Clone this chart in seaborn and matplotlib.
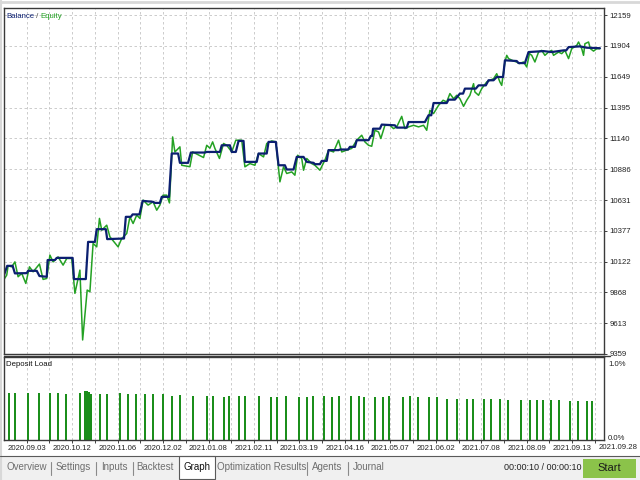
import matplotlib
matplotlib.use("Agg")
import matplotlib.pyplot as plt
import seaborn as sns
import pandas as pd
from matplotlib.patches import Rectangle
from matplotlib.lines import Line2D

# balance curve (deal index, balance) - step vertices
bal_x = [0, 0.7, 1.9, 2.4, 5.0, 5.3, 7.2, 7.8, 9.4, 9.6, 11.2, 11.6, 15.1, 15.4, 18.0,
         18.5, 20.0, 20.4, 22.4, 22.7, 26.4, 26.8, 27.9, 28.3, 29.8, 30.5, 32.8, 33.2,
         34.3, 34.7, 36.3, 36.9, 38.3, 38.7, 40.5, 41.1, 44.2, 44.6, 47.5, 47.9, 49.7,
         50.1, 51.0, 51.6, 52.7, 53.0, 55.6, 56.0, 57.8, 58.2, 59.8, 60.4, 61.8, 62.2,
         63.7, 64.4, 65.9, 66.6, 68.1, 68.4, 69.5, 69.9, 71.0, 71.4, 73.6, 73.9, 75.7,
         76.1, 77.2, 77.6, 80.2, 80.7, 81.0, 81.2, 82.7, 83.1, 86.0, 86.4, 88.6, 89.0,
         92.6, 93.4, 94.0, 94.5, 97.4, 97.8, 99.2, 100.3, 101.0, 101.4, 103.8, 104.4,
         106.0, 106.6, 107.7, 108.4, 109.8, 110.2, 112.8, 113.2, 114.6, 115.4, 118.7,
         120.5, 123.1, 123.7, 124.2, 126.7, 128.2, 131.1]
bal_y = [10011, 10087, 10087, 10025, 10027, 10046, 10046, 10003, 9997, 10135, 10135,
         10153, 10153, 9978, 9978, 10285, 10285, 10390, 10390, 10308, 10313, 10492,
         10492, 10512, 10512, 10624, 10616, 10607, 10607, 10657, 10657, 11015, 11015,
         10938, 10938, 11023, 11023, 11028, 11028, 11083, 11083, 11028, 11028, 11119,
         11119, 10946, 10946, 11015, 11015, 11111, 11111, 10918, 10918, 10883, 10883,
         10987, 10987, 10946, 10938, 10927, 10927, 10954, 10954, 11043, 11043, 11048,
         11048, 11070, 11070, 11125, 11125, 11160, 11160, 11220, 11220, 11254, 11248,
         11229, 11229, 11275, 11275, 11331, 11331, 11432, 11432, 11460, 11460, 11510,
         11510, 11551, 11551, 11578, 11578, 11620, 11620, 11647, 11647, 11785, 11779,
         11762, 11762, 11853, 11861, 11853, 11867, 11867, 11894, 11900, 11889, 11885]

# equity curve
eq_x = [0, 0.6, 0.9, 1.7, 2.4, 3.1, 3.9, 4.8, 5.6, 6.4, 7.8, 8.6, 9.4, 10.1, 10.8, 11.9,
        13.0, 13.8, 14.9, 15.6, 16.7, 17.3, 18.3, 18.9, 19.6, 20.4, 21.0, 21.5, 22.6,
        23.3, 25.1, 25.9, 27.0, 27.7, 28.4, 29.2, 29.9, 30.6, 31.7, 32.8, 33.6, 34.3,
        35.0, 35.8, 36.4, 37.1, 37.6, 38.7, 39.1, 40.9, 41.5, 43.9, 44.6, 45.3, 45.9,
        46.4, 47.4, 48.3, 49.0, 50.1, 51.0, 52.3, 53.0, 54.1, 55.2, 56.0, 57.1, 57.8,
        58.9, 59.8, 60.7, 61.5, 62.2, 63.3, 64.0, 64.6, 65.5, 65.9, 66.6, 67.7, 68.4,
        69.5, 70.6, 71.4, 72.5, 73.6, 74.3, 75.4, 76.5, 77.6, 78.7, 79.4, 80.2, 80.9,
        81.6, 82.4, 82.9, 83.8, 84.9, 85.7, 86.4, 87.5, 88.2, 89.0, 90.1, 91.2, 92.3,
        93.0, 93.7, 94.5, 95.6, 96.6, 97.4, 98.1, 98.9, 99.6, 100.3, 101.1, 101.8,
        102.5, 103.3, 103.6, 104.4, 105.1, 106.2, 106.9, 107.7, 108.4, 109.1, 109.5,
        110.2, 110.6, 111.0, 112.1, 112.8, 113.4, 114.3, 115.0, 115.6, 116.1, 116.8,
        117.6, 118.3, 119.0, 119.8, 120.5, 120.9, 122.0, 122.7, 123.4, 124.2, 124.9,
        126.0, 126.4, 127.1, 127.5, 127.8, 128.6, 129.0, 129.7, 130.4, 131.1]
eq_y = [9975, 10011, 10087, 10079, 10120, 9997, 10025, 9942, 10079, 10038, 10102, 9975,
        9983, 10176, 10120, 10161, 10093, 10148, 10148, 9860, 10052, 9475, 9887, 9873,
        10272, 10244, 10479, 10382, 10423, 10327, 10244, 10313, 10354, 10492, 10437,
        10506, 10479, 10630, 10589, 10616, 10547, 10589, 10671, 10671, 10607, 11152,
        11028, 11070, 10918, 10906, 11028, 10982, 11083, 11059, 11111, 11057, 10974,
        11098, 11083, 11028, 11125, 11125, 10905, 10932, 10918, 11015, 10987, 11098,
        11119, 11111, 10781, 10905, 10850, 10863, 10836, 11001, 10974, 10877, 10974,
        10932, 10918, 10877, 10960, 11043, 11028, 11125, 11028, 11043, 11057, 11125,
        11166, 11111, 11083, 11075, 11207, 11193, 11139, 11248, 11248, 11221, 11235,
        11322, 11221, 11235, 11248, 11235, 11248, 11207, 11372, 11345, 11413, 11455,
        11441, 11510, 11468, 11496, 11468, 11405, 11455, 11496, 11592, 11523, 11496,
        11551, 11606, 11620, 11633, 11674, 11606, 11578, 11771, 11826, 11799, 11779,
        11771, 11758, 11771, 11730, 11840, 11826, 11771, 11853, 11867, 11826, 11853,
        11867, 11826, 11853, 11840, 11867, 11799, 11881, 11908, 11936, 11881, 11826,
        11922, 11936, 11881, 11861, 11881, 11881]

# deposit load per deal, percent
load_x = [1.1, 2.4, 5.3, 7.8, 10.1, 11.9, 13.6, 16.7, 17.8, 18.3, 18.6, 19.1, 21.1, 22.6,
          25.5, 27.3, 29.0, 31.0, 32.7, 35.0, 36.9, 38.7, 41.6, 44.7, 45.9, 48.3, 49.4,
          51.8, 53.1, 56.0, 58.7, 60.1, 62.0, 65.0, 66.7, 67.9, 70.3, 72.2, 73.8, 76.3,
          78.0, 79.2, 81.6, 83.3, 84.6, 87.7, 89.3, 91.1, 93.6, 95.2, 97.5, 99.6, 101.9,
          103.1, 105.5, 107.2, 109.1, 110.9, 113.7, 115.7, 117.3, 118.5, 120.3, 122.2,
          124.5, 126.3, 128.2, 129.4]
load_pct = [0.62, 0.62, 0.62, 0.62, 0.62, 0.62, 0.61, 0.62, 0.64, 0.64, 0.63, 0.61, 0.61,
            0.61, 0.62, 0.61, 0.61, 0.61, 0.61, 0.61, 0.58, 0.59, 0.58, 0.58, 0.58, 0.57,
            0.58, 0.58, 0.58, 0.58, 0.57, 0.57, 0.58, 0.57, 0.57, 0.58, 0.58, 0.57, 0.58,
            0.58, 0.58, 0.57, 0.57, 0.57, 0.58, 0.57, 0.58, 0.57, 0.56, 0.56, 0.54, 0.54,
            0.54, 0.54, 0.54, 0.54, 0.54, 0.53, 0.53, 0.53, 0.53, 0.53, 0.53, 0.52, 0.51,
            0.51, 0.51, 0.51]

y_ticks = [9359, 9613, 9868, 10122, 10377, 10631, 10886, 11140, 11395, 11649, 11904, 12159]
date_labels = ["2020.09.03", "2020.10.12", "2020.11.06", "2020.12.02", "2021.01.08",
               "2021.02.11", "2021.03.19", "2021.04.16", "2021.05.07", "2021.06.02",
               "2021.07.08", "2021.08.09", "2021.09.13", "2021.09.28"]
date_pos = [5, 15, 25, 35, 45, 55, 65, 75, 85, 95, 105, 115, 125, 135]
tabs = ["Overview", "Settings", "Inputs", "Backtest", "Graph",
        "Optimization Results", "Agents", "Journal"]
timer_text = "00:00:10 / 00:00:10"

sns.set_style("white")
plt.rcParams['font.family'] = ['Liberation Sans Narrow', 'Liberation Sans', 'DejaVu Sans']

NAVY = '#0b1f70'
GREEN = '#23a123'
BARGREEN = '#1b8e1b'
FRAME = '#3a3a3a'
GRID = '#c4c4c4'
LBL = 5.6
W, H = 640, 480

fig = plt.figure(figsize=(6.4, 4.8), dpi=100, facecolor='white')
ax = fig.add_axes([4 / W, 1 - 354 / H, 600 / W, 346 / H])
ax2 = fig.add_axes([4 / W, 1 - 440 / H, 600 / W, 83 / H])

bal = pd.DataFrame({'deal': bal_x, 'value': bal_y})
eq = pd.DataFrame({'deal': eq_x, 'value': eq_y})
sns.lineplot(data=eq, x='deal', y='value', sort=False, estimator=None,
             color=GREEN, lw=1.1, ax=ax)
sns.lineplot(data=bal, x='deal', y='value', sort=False, estimator=None,
             color=NAVY, lw=1.6, ax=ax)

xmax = 132
ax.set_xlim(0, xmax)
ax.set_ylim(9359, 12217)
ax.set_xticks(range(5, 131, 5))
ax.set_yticks(y_ticks)
ax.set_yticklabels([str(v) for v in y_ticks])
ax.yaxis.tick_right()
ax.tick_params(axis='y', right=True, length=2.5, width=0.6, pad=1.5,
               labelsize=LBL, colors='#222222')
ax.tick_params(axis='x', bottom=False, labelbottom=False)
ax.set_xlabel('')
ax.set_ylabel('')
ax.grid(True, color=GRID, linestyle=(0, (3, 3)), lw=0.6)
ax.set_axisbelow(True)
for s in ax.spines.values():
    s.set_color(FRAME)
    s.set_linewidth(1.0)

t1 = ax.text(2 / 600, 1 - 8 / 346, "Balance", transform=ax.transAxes, color=NAVY,
             fontsize=LBL, va='center', ha='left')
t2 = ax.annotate(" / ", xy=(1, 0), xycoords=t1, va='bottom', ha='left',
                 color='#444444', fontsize=LBL)
ax.annotate("Equity", xy=(1, 0), xycoords=t2, va='bottom', ha='left',
            color=GREEN, fontsize=LBL)

# deposit load panel
ax2.bar(load_x, load_pct, width=0.45, color=BARGREEN, linewidth=0)
ax2.set_xlim(0, xmax)
ax2.set_ylim(0, 83 / 76)
ax2.set_yticks([])
ax2.set_xticks(range(5, 131, 10))
ax2.set_xticks(range(10, 131, 10), minor=True)
ax2.set_xticklabels(date_labels[:-1])
ax2.tick_params(axis='x', which='both', bottom=True, length=2, width=0.6, pad=1.5,
                labelsize=LBL, colors='#222222')
ax2.grid(True, axis='x', which='both', color=GRID, linestyle=(0, (3, 3)), lw=0.6)
ax2.set_axisbelow(True)
for s in ax2.spines.values():
    s.set_color(FRAME)
    s.set_linewidth(1.0)
ax2.text(2 / 600, 1 - 8 / 83, "Deposit Load", transform=ax2.transAxes, fontsize=LBL,
         va='center', ha='left', color='#111111')
ax2.text(1.0 + 4 / 600, 1.0, "1.0%", transform=ax2.get_yaxis_transform(),
         fontsize=LBL, va='center', ha='left', color='#222222')
ax2.text(date_pos[-1], -0.10, date_labels[-1], fontsize=LBL, ha='center', va='center',
         color='#222222', clip_on=False)
ax2.text(1.0 + 4 / 600, 0.02, "0.0%", transform=ax2.get_yaxis_transform(),
         fontsize=LBL, va='center', ha='left', color='#222222')

# window frame
fig.add_artist(Line2D([0, 1], [1 - 1.5 / H, 1 - 1.5 / H], color='#d8d8d8', lw=2))
fig.add_artist(Line2D([0.7 / W, 0.7 / W], [0, 1], color='#d8d8d8', lw=1.5))
fig.add_artist(Line2D([4 / W, 610 / W], [1 - 355.5 / H, 1 - 355.5 / H], color=FRAME, lw=1.0))

# tab bar
fig.add_artist(Rectangle((0, 0), 1, 24 / H, transform=fig.transFigure,
                         facecolor='#f0f0f0', edgecolor='none'))
fig.add_artist(Line2D([0, 1], [24 / H, 24 / H], color='#5a5a5a', lw=0.8))
fig.add_artist(Rectangle((179 / W, 1 / H), 36 / W, 23 / H, transform=fig.transFigure,
                         facecolor='white', edgecolor='#5a5a5a', lw=0.8))
tab_x = [27, 73, 114, 155, 197, 262, 327, 369]
sep_x = [51, 96, 133, 307, 348]
for name, x in zip(tabs, tab_x):
    fig.text(x / W, 1 - 467 / H, name, ha='center', va='center', fontsize=7,
             color='#111111' if name == "Graph" else '#6e6e6e')
for x in sep_x:
    fig.add_artist(Line2D([x / W, x / W], [5 / H, 18 / H], color='#8a8a8a', lw=0.8))
fig.text(543 / W, 1 - 467 / H, timer_text, ha='center', va='center', fontsize=6.5,
         color='#222222')
fig.add_artist(Rectangle((583 / W, 2 / H), 53 / W, 19 / H, transform=fig.transFigure,
                         facecolor='#8bc34a', edgecolor='none'))
fig.text(609 / W, 1 - 468 / H, "Start", ha='center', va='center', fontsize=8,
         color='#1a1a1a')

fig.savefig('out.png', dpi=100)
